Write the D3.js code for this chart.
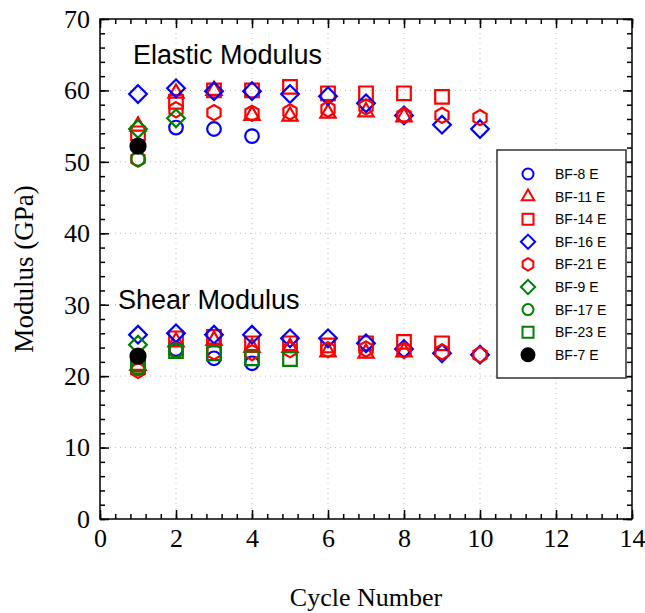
<!DOCTYPE html>
<html>
<head>
<meta charset="utf-8">
<script src="https://cdn.jsdelivr.net/npm/d3@7"></script>
<style>
  body { margin: 0; background: #fff; }
  .tick text { font-family: "Liberation Serif", "Times New Roman", serif; font-size: 26px; fill: #000; }
</style>
</head>
<body>
<div id="chart"></div>
<script>
const width = 645;
const height = 613;
const margin = { top: 19, right: 13, bottom: 94, left: 100 };

// data (null = no visible point)
const cycles = [1, 2, 3, 4, 5, 6, 7, 8, 9, 10];
const specimens = ["BF-8 E", "BF-11 E", "BF-14 E", "BF-16 E", "BF-21 E", "BF-9 E", "BF-17 E", "BF-23 E", "BF-7 E"];

const bf8Elastic  = [null, 54.8, 54.6, 53.6, null, null, null, null, null, null];
const bf8Shear    = [null, 23.8, 22.5, 21.8, null, null, null, null, null, null];
const bf11Elastic = [55.0, 59.6, 60.0, 56.5, 56.4, 56.8, 57.0, 56.3, null, null];
const bf11Shear   = [21.5, 24.8, 25.0, 24.0, 24.0, 23.4, 23.2, 23.4, null, null];
const bf14Elastic = [54.0, 58.4, 60.0, 60.0, 60.5, 59.6, 59.6, 59.6, 59.1, null];
const bf14Shear   = [21.3, 25.3, 25.5, 24.6, 24.6, 24.3, 24.6, 24.8, 24.6, null];
const bf16Elastic = [59.5, 60.3, 59.9, 59.9, 59.5, 59.2, 58.2, 56.5, 55.2, 54.6];
const bf16Shear   = [25.8, 26.0, 25.8, 25.8, 25.3, 25.3, 24.6, 23.8, 23.2, 23.0];
const bf21Elastic = [50.4, 57.3, 56.9, 56.8, 57.0, 57.4, 57.7, 56.5, 56.5, 56.2];
const bf21Shear   = [20.8, 23.6, 23.4, 23.3, 23.7, 23.7, 23.8, 23.6, 23.4, 23.0];
const bf9Elastic  = [54.6, 56.1, null, null, null, null, null, null, null, null];
const bf9Shear    = [24.4, null, null, null, null, null, null, null, null, null];
const bf17Elastic = [50.4, null, null, null, null, null, null, null, null, null];
const bf17Shear   = [21.1, 23.6, null, null, null, null, null, null, null, null];
const bf23Elastic = [null, null, null, null, null, null, null, null, null, null];
const bf23Shear   = [21.6, 23.5, 23.2, 22.5, 22.4, null, null, null, null, null];
const bf7Elastic  = [52.2, null, null, null, null, null, null, null, null, null];
const bf7Shear    = [22.8, null, null, null, null, null, null, null, null, null];

const xTicks = [0, 2, 4, 6, 8, 10, 12, 14];
const yTicks = [0, 10, 20, 30, 40, 50, 60, 70];

const series = [
    { name: specimens[0], shape: "circle", color: "#0000ff", elastic: bf8Elastic, shear: bf8Shear },
    { name: specimens[1], shape: "triangle", color: "#ff0000", elastic: bf11Elastic, shear: bf11Shear },
    { name: specimens[2], shape: "square", color: "#ff0000", elastic: bf14Elastic, shear: bf14Shear },
    { name: specimens[3], shape: "diamond", color: "#0000ff", elastic: bf16Elastic, shear: bf16Shear },
    { name: specimens[4], shape: "hexagon", color: "#ff0000", elastic: bf21Elastic, shear: bf21Shear },
    { name: specimens[5], shape: "diamond", color: "#008000", elastic: bf9Elastic, shear: bf9Shear },
    { name: specimens[6], shape: "circle", color: "#008000", elastic: bf17Elastic, shear: bf17Shear },
    { name: specimens[7], shape: "square", color: "#008000", elastic: bf23Elastic, shear: bf23Shear },
    { name: specimens[8], shape: "dot", color: "#000000", elastic: bf7Elastic, shear: bf7Shear }
];

const svg = d3.select('#chart')
    .append("svg")
    .attr('width', width)
    .attr('height', height);

const x = d3.scaleLinear().domain([0, 14]).range([margin.left, width - margin.right]);
const y = d3.scaleLinear().domain([0, 70]).range([height - margin.bottom, margin.top]);

// dotted grid
svg.append("g")
    .selectAll("line")
    .data(xTicks.slice(1, -1))
    .enter().append("line")
    .attr("x1", d => x(d)).attr("x2", d => x(d))
    .attr("y1", y(0)).attr("y2", y(70))
    .style("stroke", "#bdbdbd")
    .style("stroke-dasharray", "1,4");

svg.append("g")
    .selectAll("line")
    .data(yTicks.slice(1, -1))
    .enter().append("line")
    .attr("x1", x(0)).attr("x2", x(14))
    .attr("y1", d => y(d)).attr("y2", d => y(d))
    .style("stroke", "#bdbdbd")
    .style("stroke-dasharray", "1,4");

// axes, ticks pointing inward on all four sides
const xMinor = d3.range(0, 14.01, 0.4);
const yMinor = d3.range(0, 70.01, 2);

function drawAxis(axis, transform, major, minor, labels) {
    svg.append("g")
        .attr("transform", transform)
        .call(axis.tickValues(minor).tickSize(-5).tickFormat(""))
        .call(g => g.select(".domain").remove());
    const g = svg.append("g")
        .attr("transform", transform)
        .call(axis.tickValues(major).tickSize(-9).tickPadding(10)
            .tickFormat(labels ? d3.format("d") : ""));
    g.select(".domain").remove();
    return g;
}

drawAxis(d3.axisBottom(x), `translate(0,${y(0)})`, xTicks, xMinor, true);
drawAxis(d3.axisTop(x), `translate(0,${y(70)})`, xTicks, xMinor, false);
drawAxis(d3.axisLeft(y), `translate(${x(0)},0)`, yTicks, yMinor, true);
drawAxis(d3.axisRight(y), `translate(${x(14)},0)`, yTicks, yMinor, false);

svg.selectAll(".tick line").style("stroke", "#000").style("stroke-width", 1.5);

svg.append("rect")
    .attr("x", x(0)).attr("y", y(70))
    .attr("width", x(14) - x(0)).attr("height", y(0) - y(70))
    .style("fill", "none")
    .style("stroke", "#000")
    .style("stroke-width", 1.5);

// marker shapes
function shapePath(shape, r) {
    let pts;
    if (shape === "circle" || shape === "dot") {
        return `M${r},0A${r},${r} 0 1,1 ${-r},0A${r},${r} 0 1,1 ${r},0Z`;
    } else if (shape === "square") {
        pts = [[-r, -r], [r, -r], [r, r], [-r, r]];
    } else if (shape === "diamond") {
        const a = r * 1.3;
        pts = [[0, -a], [a, 0], [0, a], [-a, 0]];
    } else if (shape === "triangle") {
        const a = r * 1.3;
        pts = [[0, -a], [a * 0.866, a * 0.5], [-a * 0.866, a * 0.5]];
    } else if (shape === "hexagon") {
        const a = r * 1.12;
        pts = d3.range(6).map(i => {
            const t = Math.PI / 3 * i - Math.PI / 2;
            return [a * Math.cos(t), a * Math.sin(t)];
        });
    }
    return "M" + pts.map(p => p.join(",")).join("L") + "Z";
}

function drawMarkers(g, s, values) {
    const pts = cycles.map((c, i) => ({ c: c, v: values[i] })).filter(d => d.v !== null);
    g.selectAll(null)
        .data(pts)
        .enter().append("path")
        .attr("transform", d => `translate(${x(d.c)},${y(d.v)})`)
        .attr("d", shapePath(s.shape, s.shape === "dot" ? 7.5 : 6.8))
        .style("fill", s.shape === "dot" ? s.color : "none")
        .style("stroke", s.color)
        .style("stroke-width", 2.2);
}

const markerGroup = svg.append("g");
series.forEach(s => {
    const g = markerGroup.append("g");
    drawMarkers(g, s, s.elastic);
    drawMarkers(g, s, s.shear);
});

// annotations
svg.append("text")
    .attr("x", 133).attr("y", 64)
    .style("font-family", "'Liberation Sans', Arial, sans-serif")
    .style("font-size", "27px")
    .text("Elastic Modulus");

svg.append("text")
    .attr("x", 118).attr("y", 309)
    .style("font-family", "'Liberation Sans', Arial, sans-serif")
    .style("font-size", "27px")
    .text("Shear Modulus");

// axis titles
svg.append("text")
    .attr("x", x(7)).attr("y", 606)
    .attr("text-anchor", "middle")
    .style("font-family", "'Liberation Serif', 'Times New Roman', serif")
    .style("font-size", "26px")
    .text("Cycle Number");

svg.append("text")
    .attr("transform", `translate(33,${y(35)}) rotate(-90)`)
    .attr("text-anchor", "middle")
    .style("font-family", "'Liberation Serif', 'Times New Roman', serif")
    .style("font-size", "27px")
    .text("Modulus (GPa)");

// legend
const legend = svg.append("g").attr("transform", "translate(497,150)");
legend.append("rect")
    .attr("width", 129).attr("height", 228)
    .style("fill", "#fff")
    .style("stroke", "#333")
    .style("stroke-width", 1.5);

const rows = legend.selectAll(".row")
    .data(series)
    .enter().append("g")
    .attr("class", "row")
    .attr("transform", (d, i) => `translate(31,${24 + i * 22.6})`);

rows.append("path")
    .attr("d", d => shapePath(d.shape, d.shape === "dot" ? 6.5 : 5.5))
    .style("fill", d => d.shape === "dot" ? d.color : "none")
    .style("stroke", d => d.color)
    .style("stroke-width", 2);

rows.append("text")
    .attr("x", 27).attr("dy", "0.36em")
    .style("font-family", "'Liberation Sans', Arial, sans-serif")
    .style("font-size", "14px")
    .text(d => d.name);
</script>
</body>
</html>
